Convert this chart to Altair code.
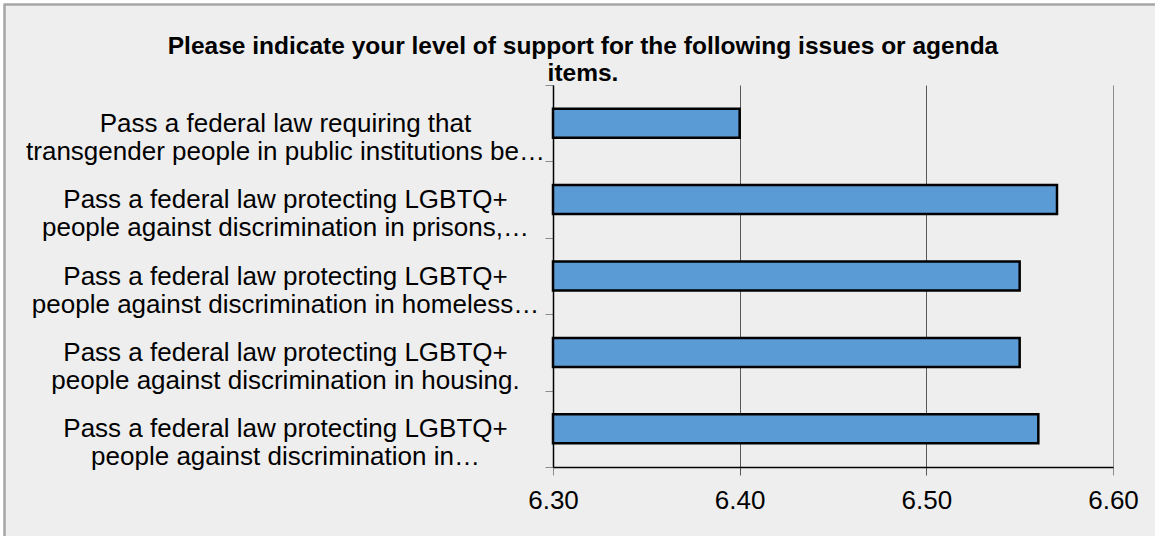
import altair as alt
import pandas as pd

# Survey items (two display lines each, joined with "|") and mean support scores
line_one = [
    "Pass a federal law requiring that",
    "Pass a federal law protecting LGBTQ+",
    "Pass a federal law protecting LGBTQ+",
    "Pass a federal law protecting LGBTQ+",
    "Pass a federal law protecting LGBTQ+",
]
line_two = [
    "transgender people in public institutions be…",
    "people against discrimination in prisons,…",
    "people against discrimination in homeless…",
    "people against discrimination in housing.",
    "people against discrimination in…",
]
scores = [6.40, 6.57, 6.55, 6.55, 6.56]
tick_values = [6.30, 6.40, 6.50, 6.60]
title_lines = [
    "Please indicate your level of support for the following issues or agenda",
    "items.",
]

df = pd.DataFrame({
    "item": [a + "|" + b for a, b in zip(line_one, line_two)],
    "score": scores,
})

FONT = "Liberation Sans"

bars = alt.Chart(df).mark_bar(
    size=29, color="#5b9bd5", stroke="black", strokeWidth=2.5
).encode(
    x=alt.X(
        "score:Q",
        scale=alt.Scale(domain=[6.3, 6.6], nice=False, zero=False),
        axis=alt.Axis(
            values=tick_values,
            format=".2f",
            title=None,
            grid=True,
            gridColor={"condition": {"test": "datum.value >= 6.6", "value": "#8c8c8c"}, "value": "#595959"},
            gridWidth=1,
            domainColor="black",
            domainWidth=1.5,
            tickColor={"condition": {"test": "datum.value >= 6.6 || datum.value <= 6.3", "value": "#8c8c8c"}, "value": "#595959"},
            tickSize=8,
            labelFont=FONT,
            labelFontSize=26,
            labelColor="black",
            labelPadding=12,
            labelFlush=False,
        ),
    ),
    x2=alt.datum(6.3),
    y=alt.Y(
        "item:N",
        sort=None,
        scale=alt.Scale(paddingInner=0, paddingOuter=0),
        axis=alt.Axis(
            title=None,
            domainColor="black",
            domainWidth=1.5,
            tickColor="#8c8c8c",
            tickSize=8,
            tickBand="extent",
            labelAlign="center",
            labelBaseline="middle",
            labelPadding=260,
            labelLimit=600,
            labelFont=FONT,
            labelFontSize=26,
            labelColor="black",
            labelLineHeight=28,
            labelExpr="split(datum.label, '|')",
        ),
    ),
)

# Page frame: white outer margin and thin grey border along the top/left edges
margin = alt.Chart(df).mark_rect(
    fillOpacity=0, stroke="white", strokeWidth=9
).encode(
    x=alt.value(-553), x2=alt.value(700), y=alt.value(-85), y2=alt.value(600)
)
border = alt.Chart(df).mark_rect(
    fillOpacity=0, stroke="#a6a6a6", strokeWidth=1.5
).encode(
    x=alt.value(-548.5), x2=alt.value(700), y=alt.value(-80.5), y2=alt.value(600)
)

chart = alt.layer(bars, margin, border).properties(
    width=560,
    height=382,
    title=alt.Title(
        text=title_lines,
        font=FONT,
        fontSize=24.5,
        fontWeight="bold",
        color="black",
        anchor="middle",
        baseline="alphabetic",
        dx=-250,
        dy=116,
        lineHeight=27.5,
        offset=6,
    ),
    autosize=alt.AutoSizeParams(type="none"),
    padding={"left": 553, "top": 85, "right": 42, "bottom": 69},
).configure(
    background="#eeeeee",
).configure_view(
    stroke=None,
)

chart.save("out.html", embed_options={"renderer": "svg", "actions": False})
